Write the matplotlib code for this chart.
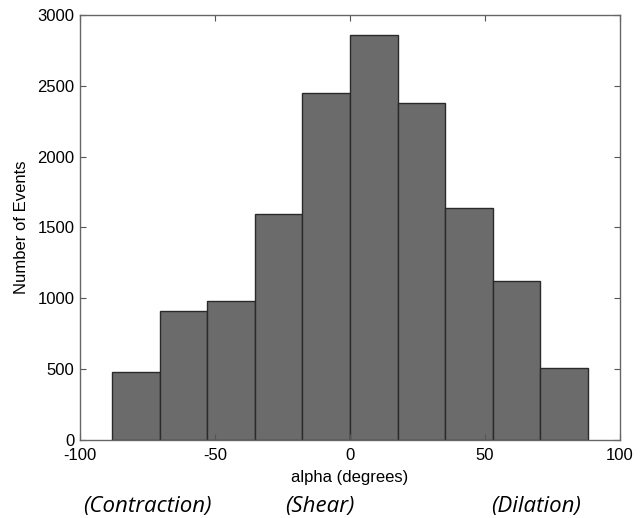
import numpy as np
import matplotlib
matplotlib.use('Agg')
import matplotlib.pyplot as plt

plt.rcParams['font.family'] = ['Liberation Sans', 'DejaVu Sans']
plt.rcParams['axes.unicode_minus'] = False

# histogram bins (degrees) and counts
bin_edges = [-88.0, -70.4, -52.8, -35.2, -17.6, 0.0, 17.6, 35.2, 52.8, 70.4, 88.0]
counts = [478, 913, 983, 1593, 2447, 2859, 2376, 1640, 1125, 506]
regime_labels = ['(Contraction)', '(Shear)', '(Dilation)']
regime_x = [-75, -11, 69]

fig = plt.figure(figsize=(6.42, 5.18), dpi=100)
ax = fig.add_axes([0.1246, 0.1506, 0.8411, 0.8205])

edges = np.array(bin_edges)
ax.bar(edges[:-1], counts, width=np.diff(edges), align='edge',
       color='#6b6b6b', edgecolor='#2a2a2a', linewidth=1.0)

ax.set_xlim(-100, 100)
ax.set_ylim(0, 3000)
ax.set_xticks([-100, -50, 0, 50, 100])
ax.set_yticks(range(0, 3001, 500))
ax.tick_params(direction='in', top=True, right=True, length=4,
               labelsize=12, color='#555555')
ax.tick_params(axis='x', pad=6)
ax.tick_params(axis='y', pad=4)
for sp in ax.spines.values():
    sp.set_color('#666666')
    sp.set_linewidth(1.0)

ax.set_xlabel('alpha (degrees)', fontsize=12, labelpad=5)
ax.set_ylabel('Number of Events', fontsize=12, labelpad=6)

for lab, xv in zip(regime_labels, regime_x):
    ax.text(xv, -0.157, lab, transform=ax.get_xaxis_transform(),
            ha='center', va='center', fontsize=16, style='italic',
            family=['Open Sans', 'DejaVu Sans'])

fig.savefig('out.png', dpi=100, facecolor='white')
